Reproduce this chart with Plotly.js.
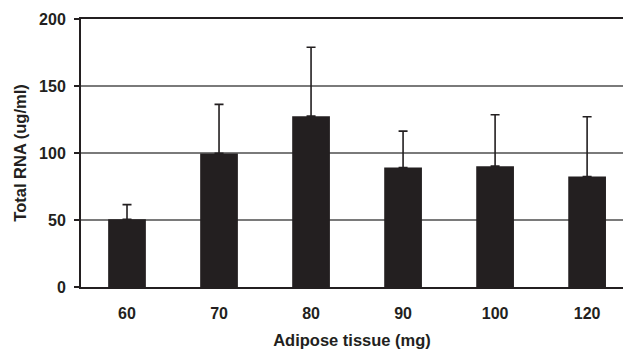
<!DOCTYPE html>
<html>
<head>
<meta charset="utf-8">
<script src="https://cdn.plot.ly/plotly-3.0.1.min.js"></script>
<style>html,body{margin:0;padding:0;background:#fff;}</style>
</head>
<body>
<div id="chart" style="width:623px;height:351px;"></div>
<script>
const categories = ["60", "70", "80", "90", "100", "120"];
const rnaMeans = [50.6, 99.7, 127.5, 89.2, 90.2, 82.5];
const rnaErrUp = [10.9, 36.6, 51.4, 27.1, 38.3, 44.5];
const yTicks = [0, 50, 100, 150, 200];

const ink = "#231f20";
const fontFam = "Liberation Sans, Arial, Helvetica, sans-serif";

const trace = {
  type: "bar",
  x: categories,
  y: rnaMeans,
  width: 0.41,
  marker: {color: ink, line: {width: 0}},
  error_y: {
    type: "data",
    symmetric: false,
    array: rnaErrUp,
    arrayminus: rnaMeans.map(() => 0),
    color: ink,
    thickness: 1.6,
    width: 4.5
  },
  hoverinfo: "none"
};

const layout = {
  width: 623,
  height: 351,
  margin: {l: 81, r: 0, t: 19, b: 64},
  paper_bgcolor: "#fff",
  plot_bgcolor: "#fff",
  showlegend: false,
  font: {family: fontFam, color: ink},
  bargap: 0.59,
  xaxis: {
    type: "category",
    range: [-0.5, 5.39],
    showline: true,
    linecolor: ink,
    linewidth: 2,
    mirror: true,
    ticks: "",
    showgrid: false,
    tickfont: {size: 16, weight: "bold", color: ink},
    ticklabelstandoff: 11,
    title: {text: "Adipose tissue (mg)", font: {size: 16.5, weight: "bold", color: ink}, standoff: 13}
  },
  yaxis: {
    range: [0, 200],
    tickvals: yTicks,
    ticktext: yTicks.map(String),
    showline: true,
    linecolor: ink,
    linewidth: 2,
    ticks: "outside",
    ticklen: 5,
    tickwidth: 1.5,
    tickcolor: ink,
    showgrid: true,
    gridcolor: "#7a7a7a",
    gridwidth: 1.2,
    zeroline: false,
    tickfont: {size: 16, weight: "bold", color: ink},
    ticklabelstandoff: 5,
    title: {text: "Total RNA (ug/ml)", font: {size: 16.5, weight: "bold", color: ink}, standoff: 8}
  }
};

Plotly.newPlot("chart", [trace], layout, {displayModeBar: false, staticPlot: true});
</script>
</body>
</html>
